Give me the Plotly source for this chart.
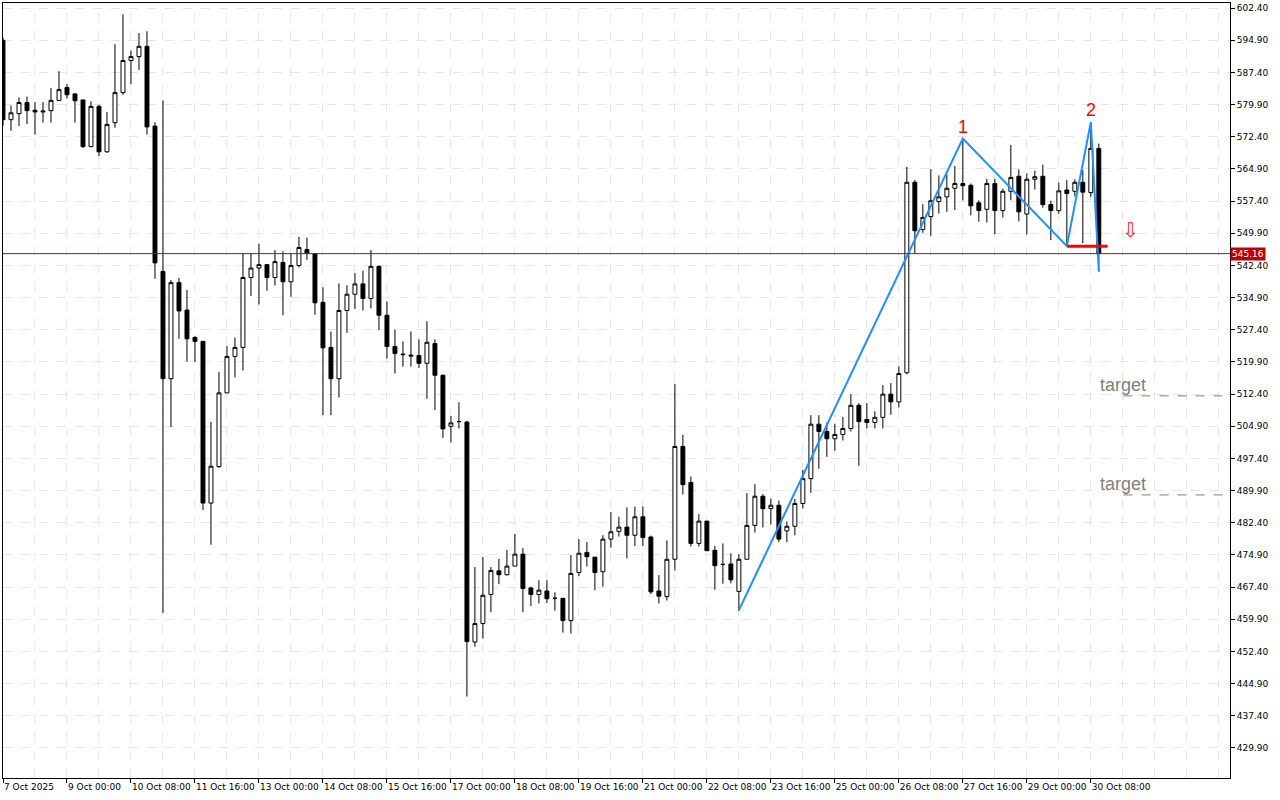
import plotly.graph_objects as go

opens = [594.9,576.4,577.8,580.4,578.6,578.2,578.5,580.9,583.9,582.4,
         581.0,570.1,579.5,568.9,575.7,582.7,590.2,591.1,593.5,574.9,
         541.0,516.0,538.4,532.0,525.6,524.7,487.0,495.5,512.7,521.2,
         523.3,539.6,541.8,542.6,539.6,543.1,538.6,542.4,546.1,545.2,
         533.8,523.3,516.0,531.9,535.7,538.1,534.7,542.2,530.8,523.5,
         521.6,521.5,521.4,519.6,524.2,516.8,504.9,506.0,505.9,454.6,
         458.9,465.7,471.2,470.3,472.3,475.1,467.2,465.7,466.5,464.8,
         464.8,459.6,470.8,475.5,474.4,471.0,478.6,480.4,481.4,479.5,
         483.8,479.1,466.5,465.2,473.9,500.2,491.8,477.6,482.8,476.0,
         472.7,472.8,466.4,473.9,481.8,488.6,485.7,486.5,480.5,481.6,
         486.9,492.7,505.4,503.7,502.0,503.0,504.4,509.8,506.5,505.8,
         507.0,512.4,510.6,517.4,561.8,550.8,553.8,557.3,558.4,560.4,
         561.5,561.1,557.0,555.5,561.5,555.2,559.7,563.2,554.4,562.5,
         563.2,556.6,555.2,560.0,559.7,561.8,559.4,569.7]
highs = [595.5,579.7,581.6,581.8,580.5,580.5,583.8,587.7,584.7,582.5,
         581.0,580.7,579.9,578.2,594.0,601.0,592.5,596.6,597.0,575.8,
         580.9,539.0,539.5,536.7,526.0,524.8,505.9,517.6,523.6,525.6,
         545.2,545.2,547.5,542.7,546.0,545.7,545.2,549.1,548.9,545.2,
         537.3,527.0,538.2,537.8,540.6,541.2,546.0,542.4,534.0,527.5,
         524.7,527.0,525.2,529.4,525.2,517.0,507.3,510.5,506.2,472.1,
         474.4,472.1,474.0,476.1,479.8,476.5,467.5,469.0,469.0,466.2,
         464.8,474.9,478.6,477.9,474.4,479.5,484.9,483.8,486.0,486.2,
         486.2,479.4,470.2,478.3,514.8,502.9,493.2,484.4,482.8,477.0,
         477.6,475.3,475.1,489.3,491.4,489.1,488.1,487.6,482.7,488.0,
         494.7,507.5,507.5,505.8,505.5,507.1,512.4,510.3,510.3,508.4,
         514.5,515.0,518.9,565.4,562.3,556.7,564.9,563.4,563.7,565.6,
         571.6,561.5,557.6,562.6,562.6,560.3,570.5,564.8,563.9,564.5,
         565.9,557.5,561.7,562.3,562.5,564.7,575.7,570.8]
lows = [575.0,573.8,574.9,575.4,572.9,575.7,575.7,580.9,581.3,575.7,
        569.8,570.1,567.9,568.7,574.5,582.2,584.7,588.0,572.9,539.3,
        461.4,504.7,525.3,520.0,519.9,485.4,477.3,495.2,512.7,516.3,
        517.9,535.3,533.3,536.5,537.7,530.8,535.1,541.9,543.7,530.9,
        507.5,507.5,511.6,526.7,532.3,531.9,532.4,527.3,520.7,517.2,
        518.8,518.8,518.5,511.3,508.7,502.2,501.1,504.4,441.9,453.5,
        455.4,461.6,468.1,470.1,472.3,461.6,463.0,463.6,463.7,461.9,
        456.8,456.6,470.0,472.2,466.7,467.5,476.6,479.2,474.1,477.0,
        477.0,465.8,463.6,464.3,471.3,489.0,476.9,476.9,475.9,466.8,
        468.2,468.3,461.9,473.9,480.1,481.3,482.0,477.9,477.9,479.5,
        485.7,489.4,495.0,497.8,499.2,501.6,503.7,495.7,504.4,504.4,
        504.4,507.6,509.3,517.0,545.2,550.0,549.3,554.5,554.9,555.3,
        557.6,554.1,552.6,552.4,549.7,553.6,557.6,552.7,549.6,560.1,
        555.9,548.3,554.5,547.2,558.5,547.6,558.4,541.0]
closes = [576.4,578.0,580.4,578.5,578.2,578.4,580.9,583.4,582.2,580.8,
          570.1,579.5,568.9,575.3,582.7,590.2,591.1,593.5,574.7,543.0,
          516.0,538.4,531.8,525.3,524.7,487.0,495.6,512.7,521.2,523.3,
          539.6,541.8,542.6,539.6,543.3,538.6,542.4,546.6,545.2,533.7,
          523.2,516.0,531.9,535.7,538.1,534.7,542.2,530.8,523.5,521.9,
          521.7,521.3,519.6,524.5,516.8,504.3,505.7,506.0,454.7,458.9,
          465.5,471.3,470.3,472.3,475.1,467.1,465.7,466.7,464.7,464.8,
          459.6,470.6,475.3,474.5,470.8,478.6,480.3,481.4,479.5,483.8,
          479.0,466.3,465.3,473.9,500.2,491.3,477.6,482.8,475.9,472.4,
          472.7,469.1,473.9,481.8,488.6,485.7,486.5,478.6,481.6,486.9,
          492.7,505.4,503.7,502.0,503.0,504.4,509.8,506.0,505.8,507.0,
          512.4,510.6,517.2,561.8,550.5,553.6,557.5,558.4,560.4,561.5,
          561.0,556.3,555.2,561.5,555.2,559.7,562.9,554.9,562.5,563.1,
          556.6,555.2,559.8,559.2,561.8,559.5,569.7,545.2]

tick_idx = [0, 8, 16, 24, 32, 40, 48, 56, 64, 72, 80, 88, 96, 104, 112, 120, 128, 136]
tick_text = ["7 Oct 2025", "9 Oct 00:00", "10 Oct 08:00", "11 Oct 16:00", "13 Oct 00:00",
             "14 Oct 08:00", "15 Oct 16:00", "17 Oct 00:00", "18 Oct 08:00", "19 Oct 16:00",
             "21 Oct 00:00", "22 Oct 08:00", "23 Oct 16:00", "25 Oct 00:00", "26 Oct 08:00",
             "27 Oct 16:00", "29 Oct 00:00", "30 Oct 08:00"]
price_ticks = [429.9 + 7.5 * k for k in range(24)]

zig_x = [92, 120, 133, 136, 137]
zig_y = [462.0, 572.0, 546.9, 575.8, 541.0]
current_price = 545.16
neck_price = 546.9
targets = [512.0, 488.9]

idx = list(range(len(opens)))
fig = go.Figure()
fig.add_trace(go.Candlestick(
    x=idx, open=opens, high=highs, low=lows, close=closes,
    increasing=dict(line=dict(color="black", width=1), fillcolor="white"),
    decreasing=dict(line=dict(color="black", width=1), fillcolor="black"),
    whiskerwidth=0, showlegend=False, hoverinfo="skip"))
fig.add_trace(go.Scatter(x=zig_x, y=zig_y, mode="lines",
                         line=dict(color="#1e90ff", width=2), showlegend=False, hoverinfo="skip"))
fig.add_trace(go.Scatter(x=[133, 138.1], y=[neck_price, neck_price], mode="lines",
                         line=dict(color="#ff0000", width=3), showlegend=False, hoverinfo="skip"))
for t in targets:
    fig.add_trace(go.Scatter(x=[140.1, 154], y=[t, t], mode="lines",
                             line=dict(color="#808080", width=1, dash="dash"),
                             showlegend=False, hoverinfo="skip"))
    fig.add_annotation(x=140, y=t + 2.6, text="target", showarrow=False, xanchor="center",
                       font=dict(family="Liberation Sans, Arial", size=18, color="#808080"))

fig.add_shape(type="line", xref="paper", x0=0, x1=1, y0=current_price, y1=current_price,
              line=dict(color="#8b1a1a", width=1))
fig.add_annotation(xref="paper", x=1.0, y=current_price, xanchor="left", text="545.16",
                   showarrow=False, bgcolor="#c00000", font=dict(color="white", size=9,
                   family="DejaVu Sans"), borderpad=1)
fig.add_annotation(x=120, y=574.6, text="1", showarrow=False,
                   font=dict(color="#ff0000", size=18, family="Liberation Sans, Arial"))
fig.add_annotation(x=136, y=578.6, text="2", showarrow=False,
                   font=dict(color="#ff0000", size=18, family="Liberation Sans, Arial"))
fig.add_annotation(x=141, y=550.6, text="⇩", showarrow=False,
                   font=dict(color="#ff2020", size=20, family="DejaVu Sans"))

fig.update_layout(
    width=1280, height=800, paper_bgcolor="white", plot_bgcolor="white",
    margin=dict(l=3, r=50, t=3, b=22, autoexpand=False),
    xaxis=dict(range=[0.0, 153.4], rangeslider=dict(visible=False),
               tickmode="array", tickvals=tick_idx, ticktext=tick_text, tickangle=0,
               ticks="outside", ticklen=4, tickcolor="black", ticklabelposition="outside right",
               showgrid=False, showline=True, linecolor="black", mirror=True, automargin=False,
               tickfont=dict(family="DejaVu Sans", size=9, color="black"), zeroline=False),
    yaxis=dict(side="right", range=[422.9, 603.6], tickmode="array", tickvals=price_ticks,
               ticktext=[f"{v:.2f}" for v in price_ticks], automargin=False,
               ticks="outside", ticklen=4, tickcolor="black",
               gridcolor="#e6e6e6", griddash="dash",
               showline=True, linecolor="black", mirror=True, zeroline=False,
               tickfont=dict(family="DejaVu Sans", size=9, color="black")),
)
for gx in range(4, 154, 4):
    fig.add_shape(type="line", x0=gx - 0.04, x1=gx - 0.04, yref="paper", y0=0, y1=1,
                  line=dict(color="#e6e6e6", width=1, dash="dash"), layer="below")

fig.write_html("out.html", config={"displayModeBar": False},
               post_script="document.body.style.margin='0';")
